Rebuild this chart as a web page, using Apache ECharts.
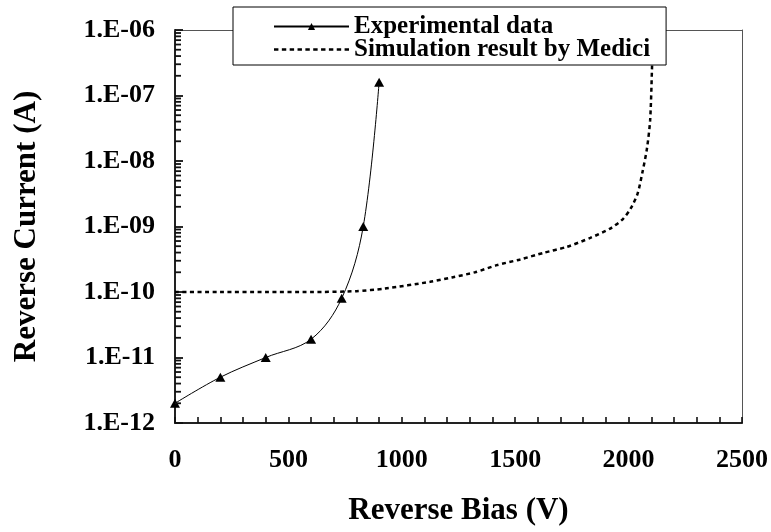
<!DOCTYPE html>
<html>
<head>
<meta charset="utf-8">
<script src="https://cdn.jsdelivr.net/npm/echarts@6/dist/echarts.min.js"></script>
<style>
html,body{margin:0;padding:0;background:#fff;}
#chart{width:771px;height:532px;}
</style>
</head>
<body>
<div id="chart"></div>
<script>
// ---- data ----
var expBias = [0, 200, 400, 600, 735, 830, 900];
var expCurrent = [2e-12, 5e-12, 1e-11, 1.9e-11, 8e-11, 1e-9, 1.6e-7];

var simBias = [0, 200, 400, 600, 800, 926, 1125, 1221, 1323, 1419, 1522, 1625, 1728, 1831, 1919, 1975, 2010, 2040, 2062, 2081, 2095, 2103, 2107];
var simCurrent = [1e-10, 1e-10, 1e-10, 1e-10, 1.03e-10, 1.13e-10, 1.43e-10, 1.67e-10, 2.0e-10, 2.57e-10, 3.14e-10, 3.96e-10, 4.89e-10, 6.7e-10, 9.3e-10, 1.3e-9, 1.9e-9, 3.2e-9, 7e-9, 1.55e-8, 4.2e-8, 2.5e-7, 1e-6];

var yTickLabels = ['1.E-12', '1.E-11', '1.E-10', '1.E-09', '1.E-08', '1.E-07', '1.E-06'];
var xTickLabels = ['0', '500', '1000', '1500', '2000', '2500'];
var seriesNames = ['Experimental data', 'Simulation result by Medici'];

// minor tick values on the log axis (2..9 x 10^k)
var yMinorTicks = [];
for (var e = -12; e < -6; e++) {
  for (var m = 2; m <= 9; m++) yMinorTicks.push([0, m * Math.pow(10, e)]);
}

var FONT = '"Liberation Serif", "Times New Roman", serif';
// dotted legend icon: short dashes, bounding box 75 x 9
var dotIcon = 'path://M0,-3.25L0,-3.25M75,5.75L75,5.75' +
  (function () {
    var s = '';
    for (var x = 0; x < 75; x += 8) s += 'M' + x + ',0h4.5v2.5h-4.5z';
    return s;
  })();

function zip(a, b) { return a.map(function (v, i) { return [v, b[i]]; }); }

var chart = echarts.init(document.getElementById('chart'), null, {renderer: 'canvas'});
chart.setOption({
  animation: false,
  backgroundColor: '#fff',
  grid: {left: 175, right: 29, top: 30, bottom: 109},
  legend: {
    data: [{name: seriesNames[0]}, {name: seriesNames[1], icon: dotIcon}],
    orient: 'vertical',
    left: 233, top: 7,
    padding: [7, 16, 3, 40],
    itemGap: -2,
    itemWidth: 75, itemHeight: 9,
    backgroundColor: '#fff',
    borderColor: '#000', borderWidth: 1,
    z: 10,
    textStyle: {fontFamily: FONT, fontWeight: 'bold', fontSize: 25, color: '#000'}
  },
  xAxis: [{
    type: 'value', min: 0, max: 2500, interval: 500, position: 'bottom',
    name: 'Reverse Bias (V)', nameLocation: 'middle', nameGap: 72,
    nameTextStyle: {fontFamily: FONT, fontWeight: 'bold', fontSize: 31, color: '#000'},
    axisLine: {show: true, onZero: false, lineStyle: {color: '#222', width: 2}},
    axisTick: {show: true, inside: true, length: 6, lineStyle: {color: '#111', width: 1.6}},
    minorTick: {show: true, splitNumber: 5, length: 6, lineStyle: {color: '#111', width: 1.6}},
    splitLine: {show: false},
    axisLabel: {
      margin: 24, fontFamily: FONT, fontWeight: 'bold', fontSize: 26, color: '#000',
      formatter: function (v) { return xTickLabels[Math.round(v / 500)]; }
    }
  }, {
    type: 'value', min: 0, max: 2500, position: 'top',
    axisLine: {show: true, onZero: false, lineStyle: {color: '#555', width: 1}},
    axisTick: {show: false}, axisLabel: {show: false}, splitLine: {show: false}
  }],
  yAxis: [{
    type: 'log', logBase: 10, min: 1e-12, max: 1e-6, position: 'left',
    name: 'Reverse Current (A)', nameLocation: 'middle', nameGap: 133,
    nameTextStyle: {fontFamily: FONT, fontWeight: 'bold', fontSize: 31, color: '#000'},
    axisLine: {show: true, onZero: false, lineStyle: {color: '#222', width: 2}},
    axisTick: {show: true, inside: true, length: 8, lineStyle: {color: '#111', width: 1.8}},
    minorTick: {show: false},
    splitLine: {show: false},
    axisLabel: {
      margin: 20, fontFamily: FONT, fontWeight: 'bold', fontSize: 26, color: '#000',
      formatter: function (v) { return yTickLabels[Math.round(Math.log10(v)) + 12]; }
    }
  }, {
    type: 'log', logBase: 10, min: 1e-12, max: 1e-6, position: 'right',
    axisLine: {show: true, onZero: false, lineStyle: {color: '#555', width: 1}},
    axisTick: {show: false}, axisLabel: {show: false}, splitLine: {show: false}
  }],
  series: [
    {
      name: seriesNames[0], type: 'line', data: zip(expBias, expCurrent),
      smooth: 0.35, symbol: 'triangle', symbolSize: [10, 9], showSymbol: true,
      lineStyle: {color: '#000', width: 1},
      itemStyle: {color: '#000'}, z: 3
    },
    {
      name: seriesNames[1], type: 'line', data: zip(simBias, simCurrent),
      smooth: 0.25, symbol: 'none',
      lineStyle: {color: '#000', width: 2.5, type: [4, 3.5]},
      itemStyle: {color: '#000'}, z: 2
    },
    {
      name: 'minorTicks', type: 'custom', data: yMinorTicks, silent: true, z: 4,
      clip: false,
      renderItem: function (params, api) {
        var p = api.coord([api.value(0), api.value(1)]);
        return {type: 'line', shape: {x1: p[0], y1: p[1], x2: p[0] + 6, y2: p[1]},
                style: {stroke: '#111', lineWidth: 1.8}};
      }
    }
  ]
});
</script>
</body>
</html>
